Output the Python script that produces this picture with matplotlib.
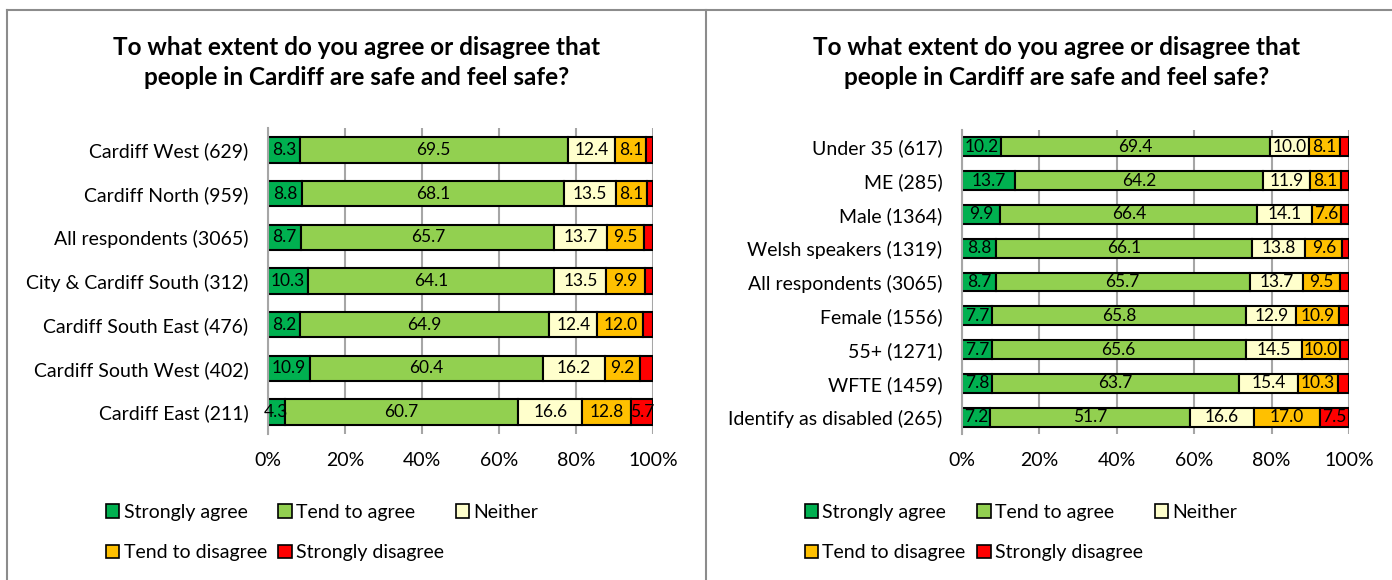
import numpy as np
import matplotlib.pyplot as plt
from matplotlib.patches import Patch
from matplotlib.lines import Line2D

plt.rcParams['font.family'] = ['Lato', 'DejaVu Sans']

W, H = 1392, 580

title = ("To what extent do you agree or disagree that\n"
         "people in Cardiff are safe and feel safe?")

responses = ["Strongly agree", "Tend to agree", "Neither",
             "Tend to disagree", "Strongly disagree"]
colours = ["#00B050", "#92D050", "#FFFFCC", "#FFC000", "#FF0000"]

# left chart: by area
area_labels = ["Cardiff West (629)", "Cardiff North (959)",
               "All respondents (3065)", "City & Cardiff South (312)",
               "Cardiff South East (476)", "Cardiff South West (402)",
               "Cardiff East (211)"]
area_strongly_agree = [8.3, 8.8, 8.7, 10.3, 8.2, 10.9, 4.3]
area_tend_agree = [69.5, 68.1, 65.7, 64.1, 64.9, 60.4, 60.7]
area_neither = [12.4, 13.5, 13.7, 13.5, 12.4, 16.2, 16.6]
area_tend_disagree = [8.1, 8.1, 9.5, 9.9, 12.0, 9.2, 12.8]
area_strongly_disagree = [1.7, 1.5, 2.4, 2.2, 2.5, 3.3, 5.7]

# right chart: by group
group_labels = ["Under 35 (617)", "ME (285)", "Male (1364)",
                "Welsh speakers (1319)", "All respondents (3065)",
                "Female (1556)", "55+ (1271)", "WFTE (1459)",
                "Identify as disabled (265)"]
group_strongly_agree = [10.2, 13.7, 9.9, 8.8, 8.7, 7.7, 7.7, 7.8, 7.2]
group_tend_agree = [69.4, 64.2, 66.4, 66.1, 65.7, 65.8, 65.6, 63.7, 51.7]
group_neither = [10.0, 11.9, 14.1, 13.8, 13.7, 12.9, 14.5, 15.4, 16.6]
group_tend_disagree = [8.1, 8.1, 7.6, 9.6, 9.5, 10.9, 10.0, 10.3, 17.0]
group_strongly_disagree = [2.3, 2.1, 2.0, 1.7, 2.4, 2.7, 2.2, 2.8, 7.5]

x_ticks = [0, 20, 40, 60, 80, 100]


def px_axes(fig, x0, x1, top, bottom):
    return fig.add_axes([x0 / W, 1 - bottom / H, (x1 - x0) / W,
                         (bottom - top) / H])


def stacked_chart(ax, labels, series, bar_h):
    y = np.arange(len(labels))
    left = np.zeros(len(labels))
    for name, vals, col in zip(responses, series, colours):
        vals = np.array(vals)
        bars = ax.barh(y, vals, left=left, height=bar_h, color=col,
                       edgecolor="black", linewidth=1.5, label=name)
        txt = [f"{v:.1f}" if v >= 4 else "" for v in vals]
        ax.bar_label(bars, labels=txt, label_type="center", fontsize=12.5)
        left += vals

    ax.set_xlim(0, 100)
    ax.set_ylim(len(labels) - 0.5, -0.5)
    ax.set_yticks(y)
    ax.set_yticklabels(labels, fontsize=14)
    ax.set_xticks(x_ticks)
    ax.set_xticklabels([f"{t}%" for t in x_ticks], fontsize=14)
    ax.tick_params(axis="both", length=0)
    ax.tick_params(axis="y", pad=14)
    ax.tick_params(axis="x", pad=13)
    ax.grid(axis="x", color="#A6A6A6", linewidth=1.5)
    ax.set_axisbelow(True)
    for s in ["top", "right", "bottom"]:
        ax.spines[s].set_visible(False)
    ax.spines["left"].set_color("#A6A6A6")
    ax.spines["left"].set_linewidth(1.5)


def add_legend(ax, fig, x_left):
    handles = [Patch(facecolor=c, edgecolor="black", linewidth=1.2)
               for c in colours]
    # column-major fill: rows read SA, TA, Neither / TD, SD
    order = [0, 3, 1, 4, 2]
    ax.legend([handles[i] for i in order], [responses[i] for i in order],
              ncol=3, frameon=False, loc="center left", fontsize=14,
              handlelength=0.68, handleheight=0.68, handletextpad=0.22,
              columnspacing=0.6, labelspacing=1.22,
              borderpad=0, borderaxespad=0,
              bbox_to_anchor=(x_left / W, 1 - 532.5 / H),
              bbox_transform=fig.transFigure)


fig = plt.figure(figsize=(W / 100, H / 100), dpi=100)

ax1 = px_axes(fig, 268, 653, 128, 434)
stacked_chart(ax1, area_labels,
              [area_strongly_agree, area_tend_agree, area_neither,
               area_tend_disagree, area_strongly_disagree], 0.58)
add_legend(ax1, fig, 106)

ax2 = px_axes(fig, 962, 1349, 130, 434)
stacked_chart(ax2, group_labels,
              [group_strongly_agree, group_tend_agree, group_neither,
               group_tend_disagree, group_strongly_disagree], 0.56)
add_legend(ax2, fig, 805)

# titles
for cx in [357, 1057]:
    fig.text(cx / W, 1 - 62.5 / H, title, ha="center", va="center",
             fontsize=17.5, fontweight="bold", linespacing=1.37)

# panel borders
border = dict(color="#8C8C8C", linewidth=1.5, transform=fig.transFigure)
fig.add_artist(Line2D([7 / W, 1], [1 - 10 / H, 1 - 10 / H], **border))
fig.add_artist(Line2D([7 / W, 7 / W], [0, 1 - 10 / H], **border))
fig.add_artist(Line2D([706 / W, 706 / W], [0, 1 - 10 / H], **border))

fig.savefig("out.png", dpi=100)
